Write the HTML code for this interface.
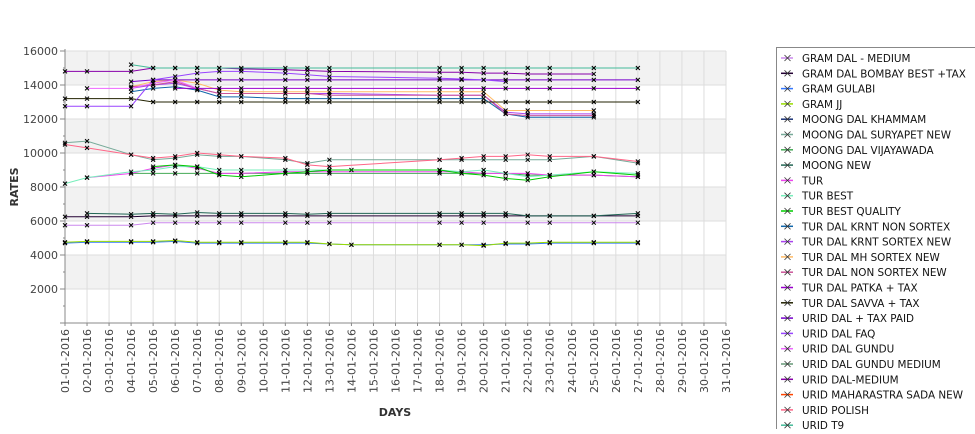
<!DOCTYPE html>
<html><head><meta charset="utf-8"><style>
body{margin:0;background:#fff;font-family:"Liberation Sans","DejaVu Sans",sans-serif;}
svg text{font-family:"DejaVu Sans","Liberation Sans",sans-serif;}
</style></head><body>
<svg id="chart" width="975" height="429" viewBox="0 0 975 429" xmlns="http://www.w3.org/2000/svg"></svg>
<script>
const days = [1,2,4,5,6,7,8,9,11,12,13,14,18,19,20,21,22,23,25,27];
const yTicks = [2000,4000,6000,8000,10000,12000,14000,16000];
const seriesNames = ["GRAM DAL - MEDIUM","GRAM DAL BOMBAY BEST +TAX","GRAM GULABI","GRAM JJ","MOONG DAL KHAMMAM","MOONG DAL SURYAPET NEW","MOONG DAL VIJAYAWADA","MOONG NEW","TUR","TUR BEST","TUR BEST QUALITY","TUR DAL KRNT NON SORTEX","TUR DAL KRNT SORTEX NEW","TUR DAL MH SORTEX NEW","TUR DAL NON SORTEX NEW","TUR DAL PATKA + TAX","TUR DAL SAVVA + TAX","URID DAL + TAX PAID","URID DAL FAQ","URID DAL GUNDU","URID DAL GUNDU MEDIUM","URID DAL-MEDIUM","URID MAHARASTRA SADA NEW","URID POLISH","URID T9"];
const seriesColors = ["#cc88ee","#220033","#3377ff","#99dd00","#1a3377","#77aa99","#44aa55","#226655","#ee44ee","#77eebb","#00cc00","#1166aa","#aa44ee","#ffbb66","#cc5599","#9900cc","#222200","#7700cc","#9944ff","#ee66ff","#669977","#8800aa","#ff4400","#ff6688","#44bb99"];
const N=null;
const s0 = [5750,5750,5750,5900,5900,5900,5900,5900,5900,5900,5900,N,5900,5900,5900,N,5900,5900,5900,5900];
const s1 = [6250,6250,6250,6300,6300,6300,6300,6300,6300,6300,6300,N,6300,6300,6300,6300,6300,6300,6300,6300];
const s2 = [4700,4750,4750,4750,4800,4700,4700,4700,4700,4700,4650,4600,4600,4600,4600,4650,4650,4700,4700,4700];
const s3 = [4750,4800,4800,4800,4850,4750,4750,4750,4750,4750,4650,4600,4600,4600,4550,4700,4700,4750,4750,4750];
const s4 = [N,N,N,N,N,N,N,N,N,N,N,N,N,N,N,N,N,N,N,N];
const s5 = [10600,10700,9900,9600,9700,9900,9800,9800,9600,9400,9600,N,9600,9600,9600,9600,9600,9600,9800,9400];
const s6 = [N,N,8800,8800,8800,8800,8800,8800,8800,8800,8800,N,8800,8800,8800,8800,8700,8700,8700,8600];
const s7 = [N,6450,6400,6450,6400,6500,6450,6450,6450,6400,6450,N,6450,6450,6450,6450,6300,6300,6300,6450];
const s8 = [N,8550,8800,9100,9300,9100,8800,8800,8900,8900,8900,N,8900,8900,8800,8800,8800,8700,8700,8600];
const s9 = [8200,8550,8900,9000,9200,9200,9000,9000,9000,9000,9000,9000,9000,8900,9000,8800,8600,8700,8900,8800];
const s10 = [N,N,N,9200,9300,9200,8700,8600,8800,8900,9000,N,9000,8800,8700,8500,8400,8600,8900,8700];
const s11 = [N,N,13600,13800,13900,13700,13300,13300,13200,13200,13200,N,13200,13200,13200,12300,12100,N,12100,N];
const s12 = [N,N,13800,14000,14100,13800,13500,13500,13500,13500,13500,N,13400,13400,13400,12400,12300,N,12300,N];
const s13 = [N,N,13900,14200,14300,14100,13700,13600,13600,13600,13600,N,13600,13600,13600,12500,12500,N,12500,N];
const s14 = [N,N,13900,14000,14200,13800,13500,13500,13500,13500,13400,N,13400,13400,13400,12300,12200,N,12200,N];
const s15 = [N,N,N,N,13800,13800,13800,13800,13800,13800,13800,N,13800,13800,13800,13800,13800,13800,13800,13800];
const s16 = [13200,13200,13200,13000,13000,13000,13000,13000,13000,13000,13000,N,13000,13000,13000,13000,13000,13000,13000,13000];
const s17 = [N,N,14200,14300,14300,14300,14300,14300,14300,14300,14300,N,14300,14300,14300,14300,14300,14300,14300,14300];
const s18 = [12750,12750,12750,14300,14500,14700,14800,14800,14700,14600,14500,N,14400,14350,14300,14200,N,N,N,N];
const s19 = [N,13800,13800,14100,14300,13800,N,N,N,N,N,N,N,N,N,N,N,N,N,N];
const s20 = [N,N,N,N,N,N,N,N,N,N,N,N,N,N,N,N,N,N,N,N];
const s21 = [14800,14800,14800,15000,15000,15000,15000,14950,14900,14850,14800,N,14750,14750,14700,14700,14650,14650,14650,N];
const s22 = [N,N,N,N,N,N,N,N,N,N,N,N,N,N,N,N,N,N,N,N];
const s23 = [10500,10300,9900,9700,9800,10000,9900,9800,9700,9300,9200,N,9600,9700,9800,9800,9900,9800,9800,9500];
const s24 = [N,N,15200,15000,15000,15000,15000,15000,15000,15000,15000,N,15000,15000,15000,N,15000,15000,15000,15000];
const seriesValues=[s0,s1,s2,s3,s4,s5,s6,s7,s8,s9,s10,s11,s12,s13,s14,s15,s16,s17,s18,s19,s20,s21,s22,s23,s24];

const svg=document.getElementById('chart');
const NS='http://www.w3.org/2000/svg';
const X0=65,X1=726,Y0=323,YTOP=51;
function xs(d){return X0+(d-1)*(X1-X0)/30;}
function ys(v){return Y0-v*(Y0-YTOP)/16000;}
function mk(tag,attrs,parent){const e=document.createElementNS(NS,tag);for(const k in attrs)e.setAttribute(k,attrs[k]);(parent||svg).appendChild(e);return e;}

const plot=mk('g',{});


for(let v=0;v<16000;v+=2000){
  const r=mk('rect',{x:X0,y:ys(v+2000),width:X1-X0,height:ys(v)-ys(v+2000),fill:((v/2000)%2===1)?'#f2f2f2':'#ffffff'},plot);
  
  
}
for(let d=1;d<=31;d++){
  const l=mk('line',{x1:xs(d),x2:xs(d),y1:YTOP,y2:Y0,stroke:'#dddddd','stroke-width':1},plot);
  
  
}
yTicks.forEach(v=>{
  const l=mk('line',{x1:X0,x2:X1,y1:ys(v),y2:ys(v),stroke:'#dddddd','stroke-width':1},plot);
  
  
});
const ax=mk('line',{x1:X0,x2:X0,y1:YTOP-2,y2:Y0,stroke:'#888','stroke-width':1});


const bx=mk('line',{x1:X0-5,x2:X1,y1:Y0,y2:Y0,stroke:'#888','stroke-width':1});


for(let v=1000;v<=16000;v+=1000){
  const major=v%2000===0;
  const t=mk('line',{x1:X0-(major?5:2),x2:X0,y1:ys(v),y2:ys(v),stroke:'#888'});
  
  
}
yTicks.forEach(v=>{
  const t=mk('text',{x:X0-7,y:ys(v)+4,'text-anchor':'end','font-size':11,fill:'#444'});
  t.textContent=v;
  
  
});
for(let d=1;d<=31;d++){
  const t=mk('line',{x1:xs(d),x2:xs(d),y1:Y0,y2:Y0+3,stroke:'#888'});
  
  
  const lab=mk('text',{x:0,y:0,'text-anchor':'end','font-size':11,fill:'#444',transform:`translate(${xs(d)+4},${Y0+6}) rotate(-90)`});
  lab.textContent=(d<10?'0':'')+d+'-01-2016';
  
  
}
const yt=mk('text',{x:0,y:0,'text-anchor':'middle','font-size':11,'font-weight':'bold',fill:'#333',transform:'translate(18,187) rotate(-90)'});
yt.textContent='RATES';


const xt=mk('text',{x:395,y:416,'text-anchor':'middle','font-size':11,'font-weight':'bold',fill:'#333'});
xt.textContent='DAYS';



seriesValues.forEach((vals,i)=>{
  const g=mk('g',{});
  
  
  let pts=[];
  vals.forEach((v,j)=>{if(v===null)return;pts.push(xs(days[j])+','+ys(v));});
  if(pts.length>1){mk('polyline',{points:pts.join(' '),fill:'none',stroke:seriesColors[i],'stroke-width':1},g);}
  vals.forEach((v,j)=>{
    if(v===null)return;
    const x=xs(days[j]),y=ys(v);
    const p=mk('path',{d:`M${x-2},${y-2}L${x+2},${y+2}M${x-2},${y+2}L${x+2},${y-2}`,stroke:'#000','stroke-width':1},g);
    
    
  });
});

const lg=mk('g',{});


mk('rect',{x:776.5,y:47.5,width:210,height:400,fill:'#fff',stroke:'#888'},lg);
seriesNames.forEach((n,i)=>{
  const y=58+i*15.3;
  const e=mk('g',{},lg);
  
  
  mk('line',{x1:781,x2:793,y1:y,y2:y,stroke:seriesColors[i],'stroke-width':1.5},e);
  mk('path',{d:`M${784.5},${y-3}L${790.5},${y+3}M${784.5},${y+3}L${790.5},${y-3}`,stroke:'#333','stroke-width':0.8},e);
  const t=mk('text',{x:802,y:y+4,'font-size':10.4,fill:'#111'},e);
  t.textContent=n;
});
</script>
</body></html>
